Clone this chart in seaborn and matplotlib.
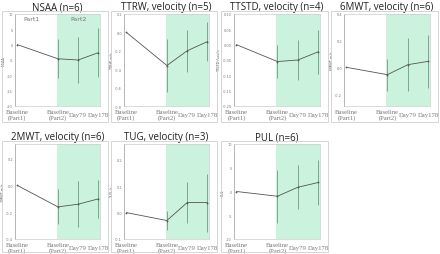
import numpy as np
import pandas as pd
import matplotlib
matplotlib.use("Agg")
import matplotlib.pyplot as plt
import seaborn as sns
from matplotlib.patches import Rectangle

sns.set_theme(style="white")

# ---- data ----
timepoints = ["Baseline\n(Part1)", "Baseline\n(Part2)", "Day79", "Day178"]
positions = [0, 2, 3, 4]

titles = ["NSAA (n=6)", "TTRW, velocity (n=5)", "TTSTD, velocity (n=4)", "6MWT, velocity (n=6)",
          "2MWT, velocity (n=6)", "TUG, velocity (n=3)", "PUL (n=6)"]
ylabels = ["NSAA", "TTRW m/s", "TTSTD /sec/s", "6MWT m/s", "2MWT m/s", "TUG /s", "PUL"]

nsaa_mean = [0.0, -4.6, -5.0, -2.6]
nsaa_sd = [0.0, 6.4, 7.4, 8.1]
ttrw_mean = [0.0, -0.36, -0.20, -0.10]
ttrw_sd = [0.0, 0.29, 0.23, 0.21]
ttstd_mean = [0.0, -0.055, -0.050, -0.023]
ttstd_sd = [0.0, 0.055, 0.065, 0.072]
mwt6_mean = [0.0, -0.055, 0.02, 0.045]
mwt6_sd = [0.0, 0.12, 0.20, 0.20]
mwt2_mean = [0.0, -0.16, -0.14, -0.10]
mwt2_sd = [0.0, 0.13, 0.17, 0.14]
tug_mean = [0.0, -0.03, 0.038, 0.038]
tug_sd = [0.0, 0.036, 0.077, 0.11]
pul_mean = [0.0, -1.0, 0.9, 1.9]
pul_sd = [0.0, 5.6, 4.6, 4.7]

means = [nsaa_mean, ttrw_mean, ttstd_mean, mwt6_mean, mwt2_mean, tug_mean, pul_mean]
sds = [nsaa_sd, ttrw_sd, ttstd_sd, mwt6_sd, mwt2_sd, tug_sd, pul_sd]

yticks = [[10, 5, 0, -5, -10, -15, -20],
          [0.2, 0.0, -0.2, -0.4, -0.6, -0.8],
          [0.10, 0.05, 0.00, -0.05, -0.10, -0.15, -0.20],
          [0.4, 0.2, 0.0, -0.2],
          [0.2, 0.0, -0.2, -0.4],
          [0.2, 0.1, 0.0, -0.1],
          [10, 5, 0, -5, -10]]
ylims = [(-20, 10), (-0.8, 0.2), (-0.20, 0.10), (-0.29, 0.4),
         (-0.4, 0.31), (-0.1, 0.26), (-10, 10)]
tickfmt = ["{:g}", "{:.1f}", "{:.2f}", "{:.1f}", "{:.1f}", "{:.1f}", "{:g}"]

# ---- layout (pixel coordinates) ----
W, H = 440, 255
fig = plt.figure(figsize=(W / 100, H / 100), dpi=100)
cols = [(15, 100), (124, 209), (234, 320), (344, 430)]
rows = [(15, 107), (145, 240)]
frames_y = [(12, 123), (142, 253)]

line_col = "#555555"
green = "#cbf2dc"
err_col = "#6f9a7f"

for i in range(7):
    r, c = divmod(i, 4)
    x0, x1 = cols[c]
    y0, y1 = rows[r]
    # panel frame
    fy0, fy1 = frames_y[r]
    fig.patches.append(Rectangle(((x0 - 13) / W, 1 - fy1 / H), (x1 - x0 + 21) / W, (fy1 - fy0) / H,
                                 transform=fig.transFigure, fill=False, ec="#cfcfcf", lw=0.6))
    ax = fig.add_axes([x0 / W, 1 - y1 / H, (x1 - x0) / W, (y1 - y0) / H])
    ax.axvspan(1.95, 4.2, color=green, lw=0, zorder=0)
    df = pd.DataFrame({"x": positions, "y": means[i], "sd": sds[i]})
    sns.lineplot(data=df, x="x", y="y", ax=ax, color=line_col, lw=0.6,
                 marker="o", markersize=1.3, markeredgewidth=0, zorder=3)
    ax.vlines(df["x"][1:], (df["y"] - df["sd"])[1:], (df["y"] + df["sd"])[1:],
              color=err_col, lw=0.6, zorder=2)
    ax.set_xlim(-0.12, 4.08)
    ax.set_ylim(*ylims[i])
    ax.set_yticks(yticks[i])
    ax.set_yticklabels([tickfmt[i].format(v) for v in yticks[i]], fontsize=2.5, color="#777777")
    ax.set_xticks(positions)
    ax.set_xticklabels(timepoints, fontsize=4.8, color="#777777", family="Liberation Serif",
                       linespacing=0.95)
    for lab in ax.get_xticklabels():
        lab.set_va("center")
    ax.tick_params(axis="x", length=0, pad=6)
    ax.tick_params(axis="y", length=0, pad=1.5)
    ax.set_xlabel("")
    ax.set_ylabel(ylabels[i], fontsize=2.5, color="#555555", labelpad=1)
    for s in ax.spines.values():
        s.set_color("#cccccc")
        s.set_linewidth(0.5)
    ax.spines["left"].set_color("#999999")
    ax.set_title(titles[i], fontsize=7, family="Open Sans", color="#222222", pad=3.5)
    if i == 0:
        ax.text(0.7, 8.5, "Part1", fontsize=4.5, color="#777777", ha="center", va="center")
        ax.text(3.0, 8.5, "Part2", fontsize=4.5, color="#777777", ha="center", va="center")

fig.savefig("out.png", dpi=100, facecolor="white")
